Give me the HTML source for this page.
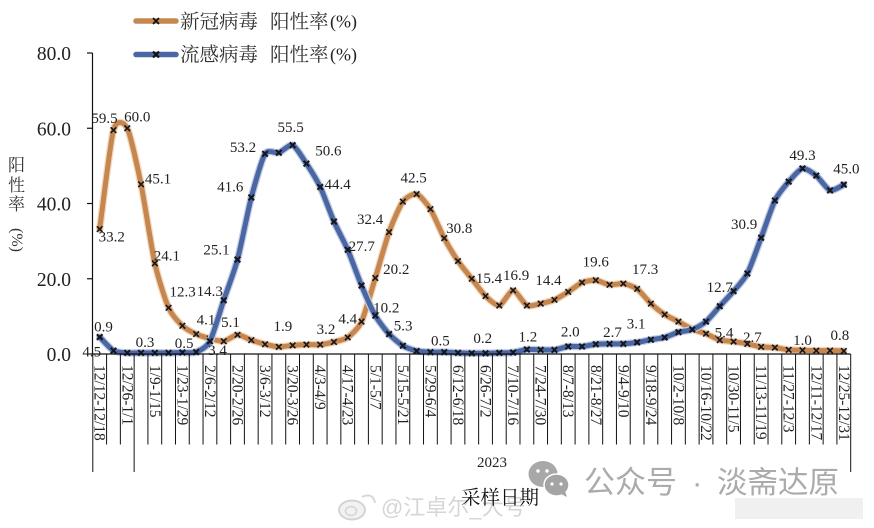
<!DOCTYPE html>
<html lang="zh">
<head>
<meta charset="utf-8">
<title>新冠病毒与流感病毒阳性率</title>
<style>
html,body{margin:0;padding:0;background:#fff;}
body{width:874px;height:528px;overflow:hidden;}
svg{display:block;}
.num{font-family:"Liberation Serif","Noto Serif CJK SC",serif;fill:#222;}
.cjk{font-family:"Liberation Serif","Noto Serif CJK SC",serif;fill:#333;}
.wm{font-family:"Liberation Sans","Noto Sans CJK SC",sans-serif;}
</style>
</head>
<body>
<svg id="chart" xmlns="http://www.w3.org/2000/svg" width="874" height="528" viewBox="0 0 874 528">
  <rect width="874" height="528" fill="#ffffff"/>

  <g>
    <ellipse cx="543" cy="474" rx="14.5" ry="13" fill="#a8a8a8"/>
    <ellipse cx="556.5" cy="485" rx="12.5" ry="11" fill="#a4a4a4" stroke="#fff" stroke-width="1.5"/>
    <path d="M561 494 L567 497 L565 491 Z" fill="#a4a4a4"/>
    <circle cx="552" cy="484" r="1.6" fill="#fff"/>
    <circle cx="561" cy="484" r="1.6" fill="#fff"/>
    <circle cx="538" cy="471" r="1.7" fill="#fff"/>
    <circle cx="547" cy="471" r="1.7" fill="#fff"/>
    <text class="wm" x="584" y="493" font-size="31" fill="#ababab">公众号</text>
    <text class="wm" x="692" y="493" font-size="31" fill="#ababab">·</text>
    <text class="wm" x="717" y="493" font-size="30.5" fill="#ababab">淡斋达原</text>
  </g>

  <g>
    <ellipse cx="352" cy="510" rx="13" ry="9.5" fill="#f2f2f2" stroke="#d4d4d4" stroke-width="2"/>
    <ellipse cx="351" cy="511" rx="5.5" ry="4.5" fill="none" stroke="#d4d4d4" stroke-width="1.5"/>
    <path d="M362 497 Q373 492 375 503" fill="none" stroke="#d8d8d8" stroke-width="2"/>
    <text class="wm" x="381" y="515" font-size="22" fill="#d6d6d6">@江卓尔_大号</text>
    <rect x="735" y="498" width="128" height="21" fill="#f0f0f0"/>
  </g>

  <g id="plot"></g>

  <g>
    <g>
      <line x1="136" y1="21" x2="176" y2="21" stroke="#c5864f" stroke-width="5.5" stroke-linecap="round"/>
      <path d="M153 18 L159 24 M159 18 L153 24" stroke="#111" stroke-width="1.7"/>
      <text class="cjk" x="180" y="28" font-size="19.5">新冠病毒</text>
      <text class="cjk" x="270" y="28" font-size="19.5">阳性率</text>
      <text class="num" x="330" y="27.500" font-size="18">(%)</text>
    </g>
    <g>
      <line x1="136" y1="54.500" x2="176" y2="54.500" stroke="#4a67a3" stroke-width="5.5" stroke-linecap="round"/>
      <path d="M153 51.500 L159 57.500 M159 51.500 L153 57.500" stroke="#111" stroke-width="2.2"/>
      <text class="cjk" x="180" y="61" font-size="19.5">流感病毒</text>
      <text class="cjk" x="270" y="61" font-size="19.5">阳性率</text>
      <text class="num" x="330" y="60.500" font-size="18">(%)</text>
    </g>
  </g>

  <g>
    <text class="cjk" x="8" y="171" font-size="17">阳</text>
    <text class="cjk" x="8" y="191" font-size="17">性</text>
    <text class="cjk" x="8" y="210" font-size="17">率</text>
    <text class="cjk" transform="translate(12,228) rotate(90)" font-size="16">(%)</text>
  </g>

  <text class="num" x="492" y="467" font-size="15" text-anchor="middle">2023</text>
  <text class="cjk" x="461" y="504" font-size="19.500" style="fill:#111">采样日期</text>
</svg>

<script>
const categories = ['12/12-12/18','12/19-12/25','12/26-1/1','1/2-1/8','1/9-1/15','1/16-1/22','1/23-1/29','1/30-2/5','2/6-2/12','2/13-2/19','2/20-2/26','2/27-3/5','3/6-3/12','3/13-3/19','3/20-3/26','3/27-4/2','4/3-4/9','4/10-4/16','4/17-4/23','4/24-4/30','5/1-5/7','5/8-5/14','5/15-5/21','5/22-5/28','5/29-6/4','6/5-6/11','6/12-6/18','6/19-6/25','6/26-7/2','7/3-7/9','7/10-7/16','7/17-7/23','7/24-7/30','7/31-8/6','8/7-8/13','8/14-8/20','8/21-8/27','8/28-9/3','9/4-9/10','9/11-9/17','9/18-9/24','9/25-10/1','10/2-10/8','10/9-10/15','10/16-10/22','10/23-10/29','10/30-11/5','11/6-11/12','11/13-11/19','11/20-11/26','11/27-12/3','12/4-12/10','12/11-12/17','12/18-12/24','12/25-12/31'];
const covidValues = [33.2,59.5,60.0,45.1,24.1,12.3,7.5,5.3,4.1,3.4,5.1,3.7,2.6,1.9,2.3,2.5,2.5,3.2,4.4,8.6,20.2,32.4,40.5,42.5,38.5,30.8,24.7,20.0,15.4,12.9,16.9,12.9,13.4,14.4,16.5,19.0,19.6,18.4,18.7,17.3,13.4,10.5,8.6,6.6,5.4,3.7,3.3,2.7,1.9,1.7,1.1,1.0,0.9,0.9,0.8];
const fluValues = [4.5,0.9,0.3,0.3,0.3,0.3,0.4,0.5,3.4,14.3,25.1,41.6,53.2,53.5,55.5,50.6,44.4,35.2,27.7,18.2,10.2,5.3,2.2,0.8,0.5,0.5,0.3,0.2,0.2,0.3,0.4,1.2,1.1,1.1,2.0,2.0,2.6,2.7,2.7,3.1,3.8,4.4,5.8,6.5,8.6,12.7,16.7,21.4,30.9,40.8,45.8,49.3,47.4,43.5,45.0];
const yTickValues = [0,20,40,60,80];
const yTickLabels = ['0.0','20.0','40.0','60.0','80.0'];

function xScale(i){ return 99.7 + 13.78 * i; }
function yScale(v){ return 354 - 3.7625 * v; }

const NS = 'http://www.w3.org/2000/svg';
const plot = document.getElementById('plot');

function make(tag, attrs, parent){
  const el = document.createElementNS(NS, tag);
  for (const k in attrs) el.setAttribute(k, attrs[k]);
  (parent || plot).appendChild(el);
  return el;
}

function smoothPath(values){
  const pts = values.map(function(v, i){ return [xScale(i), yScale(v)]; });
  const k = 0.115;
  let d = 'M' + pts[0][0].toFixed(2) + ' ' + pts[0][1].toFixed(2);
  for (let i = 0; i < pts.length - 1; i++){
    const p0 = pts[Math.max(i - 1, 0)], p1 = pts[i], p2 = pts[i + 1], p3 = pts[Math.min(i + 2, pts.length - 1)];
    const c1x = p1[0] + (p2[0] - p0[0]) * k, c1y = p1[1] + (p2[1] - p0[1]) * k;
    const c2x = p2[0] - (p3[0] - p1[0]) * k, c2y = p2[1] - (p3[1] - p1[1]) * k;
    d += 'C' + c1x.toFixed(2) + ' ' + c1y.toFixed(2) + ' ' + c2x.toFixed(2) + ' ' + c2y.toFixed(2) + ' ' + p2[0].toFixed(2) + ' ' + p2[1].toFixed(2);
  }
  return d;
}

function drawAxes(){
  const axisX = 92.5;
  const yLine = make('line', {x1:axisX, y1:yScale(80), x2:axisX, y2:yScale(0), stroke:'#111', 'stroke-width':1.2});
  
  

  yTickValues.forEach(function(v, i){
    const t = make('line', {x1:87, y1:yScale(v), x2:axisX, y2:yScale(v), stroke:'#111', 'stroke-width':1.2});
    
    
    const l = make('text', {x:71, y:yScale(v) + 7, 'text-anchor':'end', 'font-size':19.5, class:'num'});
    
    
    l.textContent = yTickLabels[i];
  });

  const xLine = make('line', {x1:axisX, y1:yScale(0), x2:850.5, y2:yScale(0), stroke:'#111', 'stroke-width':1.2});
  
  

  for (let n = 0; n <= categories.length; n++){
    const tx = xScale(n) - 6.9;
    const isYearEdge = (n === 0 || n === 3 || n === categories.length);
    const tick = make('line', {x1:tx, y1:yScale(0), x2:tx, y2:isYearEdge ? 472 : 444.5, stroke:'#111', 'stroke-width':1});
    
    
  }

  categories.forEach(function(c, i){
    if (i % 2 !== 0) return;
    const lab = make('text', {transform:'translate(' + (xScale(i) - 5) + ',365) rotate(90)', 'font-size':15.5, class:'num'});
    
    
    lab.textContent = c;
  });
}

function drawSeries(values, name, color, halo, markerWeight){
  const g = make('g', {});
  
  
  const d = smoothPath(values);
  const glow = make('path', {d:d, fill:'none', stroke:halo, 'stroke-width':7.5, 'stroke-linecap':'round', 'stroke-linejoin':'round'}, g);
  
  
  const line = make('path', {d:d, fill:'none', stroke:color, 'stroke-width':5, 'stroke-linecap':'round', 'stroke-linejoin':'round'}, g);
  
  
  for (let i = 0; i < values.length; i++){
    const x = xScale(i), y = yScale(values[i]), r = 2.8;
    const mk = make('path', {d:'M' + (x - r) + ' ' + (y - r) + 'L' + (x + r) + ' ' + (y + r) + 'M' + (x + r) + ' ' + (y - r) + 'L' + (x - r) + ' ' + (y + r), stroke:'#14161f', 'stroke-width':markerWeight, fill:'none'}, g);
    
    
  }
}

function drawLabels(){
  const covidPlacement = [[0,12,12.5],[1,-9,-7],[2,10,-7],[3,17,-1],[4,12,-3],[5,14,-11],[8,-4,-14],[10,-7,-8],[13,4,-16],[17,-8,-8],[18,0,-14],[20,21,-4],[21,-19,-8],[23,-3,-11.5],[25,15,-5],[28,3.5,-13],[30,3,-10.5],[33,-6,-15],[36,0,-14],[39,8,-15],[44,18,4],[47,5,-2],[51,0,-5],[54,-4,-11]];
  const fluPlacement = [[0,-8,19.6],[1,-10,-19],[3,4,-6],[7,-12,-4],[8,7.5,14],[9,-14,-4],[10,-21,-5],[11,-21,-6],[12,-22,-2],[14,-2,-13],[15,22,-8],[16,17.5,2],[18,14,1],[20,11,-3],[21,14,-3.5],[24,10,-6.5],[27,11,-10],[31,1,-8],[34,2,-10],[37,3,-7],[39,-1,-14],[45,0,-14],[48,-17,-8.5],[51,0,-8.6],[54,2.6,-11]];
  function place(values, placement, name){
    placement.forEach(function(p){
      const i = p[0];
      const t = make('text', {x:xScale(i) + p[1], y:yScale(values[i]) + p[2], 'text-anchor':'middle', 'font-size':15, class:'num'});
      
      
      t.textContent = values[i].toFixed(1);
    });
  }
  place(covidValues, covidPlacement, 'covid');
  place(fluValues, fluPlacement, 'flu');
}

drawSeries(covidValues, 'covid', '#c5864f', '#f3d9bd', 1.6);
drawSeries(fluValues, 'flu', '#4a67a3', '#c3cee3', 2);
drawAxes();
drawLabels();
</script>
</body>
</html>
